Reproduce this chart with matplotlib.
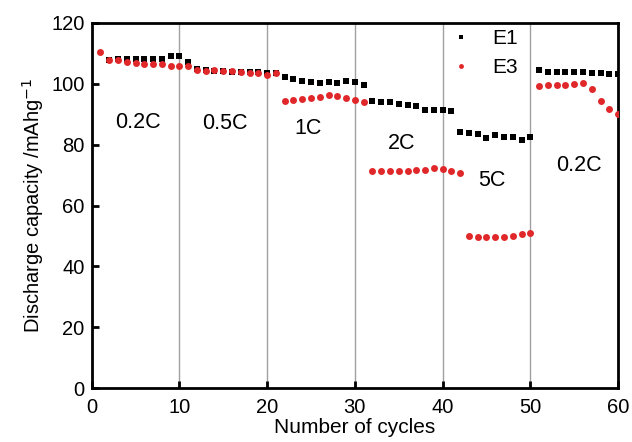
import matplotlib
matplotlib.use('Agg')
import matplotlib.pyplot as plt
import numpy as np

plt.rcParams['font.family'] = ['Liberation Sans', 'DejaVu Sans']

# E1 starts at cycle 2, E3 at cycle 1
e1_cycles = np.arange(2, 61)
e1_cap = [107.8, 108.0, 108.2, 108.2, 108.3, 108.3, 108.3, 109.0, 109.0,
          107.2, 104.8, 104.6, 104.3, 104.2, 104.0, 104.0, 103.9, 103.8, 103.7, 103.7,
          102.2, 101.6, 101.0, 100.6, 100.4, 100.6, 100.4, 100.8, 100.5, 99.6,
          94.3, 94.1, 94.1, 93.5, 93.0, 92.8, 91.4, 91.4, 91.4, 91.2,
          84.2, 83.8, 83.4, 82.1, 83.2, 82.6, 82.5, 81.6, 82.5,
          104.6, 104.0, 104.0, 104.0, 104.0, 103.8, 103.7, 103.7, 103.2, 103.3]

e3_cycles = np.arange(1, 61)
e3_cap = [110.6, 107.7, 107.7, 107.3, 106.8, 106.4, 106.4, 106.4, 105.7, 105.7,
          105.9, 104.6, 104.1, 104.4, 104.3, 104.3, 103.8, 103.7, 103.7, 103.0, 103.7,
          94.5, 94.7, 95.0, 95.5, 95.8, 96.3, 96.0, 95.3, 94.7, 94.1,
          71.5, 71.5, 71.5, 71.5, 71.5, 71.6, 71.8, 72.3, 71.9, 71.2, 70.6,
          50.0, 49.8, 49.6, 49.6, 49.8, 50.1, 50.6, 50.9,
          99.3, 99.7, 99.7, 99.7, 99.9, 100.2, 98.4, 94.2, 91.8, 90.1]

rate_labels = ['0.2C', '0.5C', '1C', '2C', '5C', '0.2C']
rate_x = [5.3, 15.2, 24.7, 35.3, 45.6, 55.5]
rate_y = [87.3, 87.1, 85.4, 80.5, 68.2, 73.0]
boundaries = [10, 20, 30, 40, 50]

fig = plt.figure(figsize=(6.32, 4.42), dpi=100)
ax = fig.add_axes([0.145, 0.122, 0.833, 0.826])

for b in boundaries:
    ax.axvline(b, color='#a0a0a0', lw=1, zorder=1)

ax.plot(e1_cycles, e1_cap, 's', color='black', ms=4.6, mew=0, label='E1', zorder=3)
ax.plot(e3_cycles, e3_cap, 'o', color='#e0272a', ms=5, mew=0, label='E3', zorder=4)

for lab, x, y in zip(rate_labels, rate_x, rate_y):
    ax.text(x, y, lab, fontsize=15.5, ha='center', va='center')

ax.set_xlim(0, 60)
ax.set_ylim(0, 120)
ax.set_xticks(range(0, 61, 10))
ax.set_yticks(range(0, 121, 20))
ax.tick_params(direction='in', width=2, length=5, labelsize=14.5)
ax.tick_params(axis='x', pad=7)
ax.tick_params(axis='y', pad=5)
for sp in ax.spines.values():
    sp.set_linewidth(2)

ax.set_xlabel('Number of cycles', fontsize=15, labelpad=1)
ax.set_ylabel('Discharge capacity /mAhg$^{-1}$', fontsize=14.5, labelpad=4)

ax.legend(loc='upper left', bbox_to_anchor=(0.682, 0.984), frameon=False,
          fontsize=15, handlelength=1.0, handletextpad=1.0, labelspacing=0.5,
          borderpad=0, borderaxespad=0, markerscale=0.7)

fig.savefig('out.png', dpi=100)
